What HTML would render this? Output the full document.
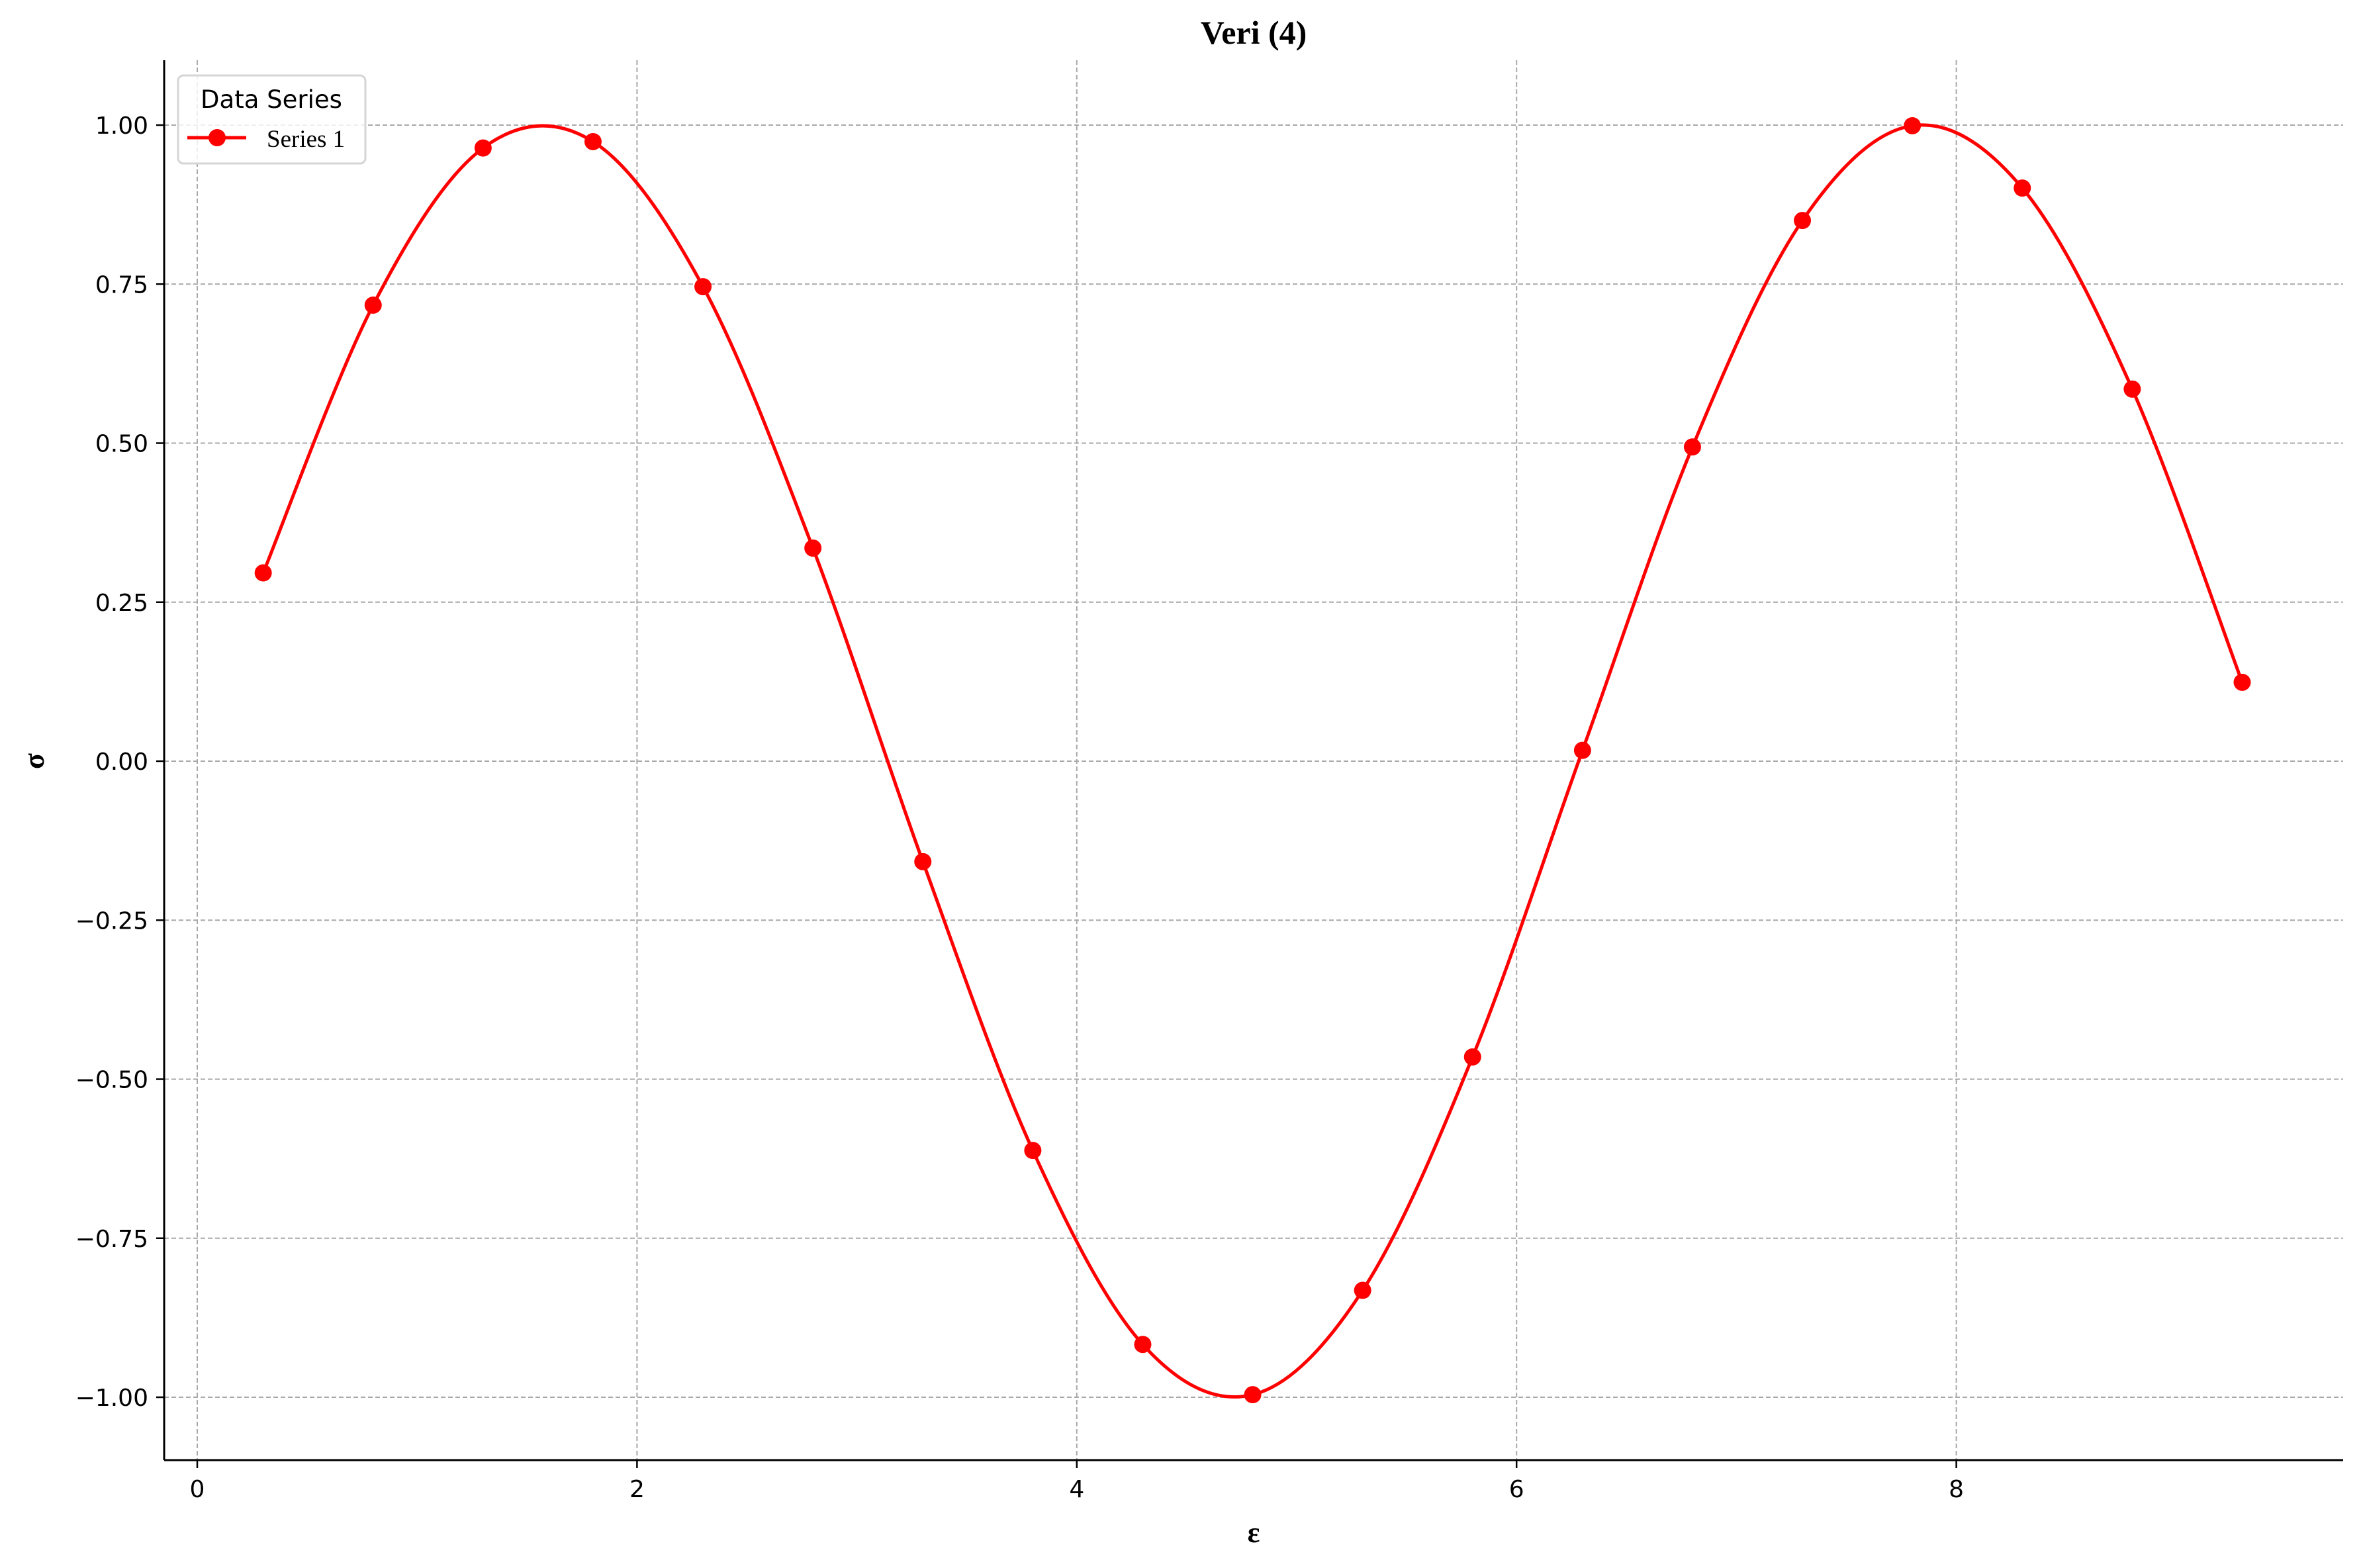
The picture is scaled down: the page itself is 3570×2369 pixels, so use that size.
<!DOCTYPE html>
<html><head><meta charset="utf-8"><style>
html,body{margin:0;padding:0;background:#fff;}
svg{display:block;}
</style></head><body>
<svg id="chart" width="3570" height="2369" xmlns="http://www.w3.org/2000/svg">
<g id="grid"></g>
<g id="axes"></g>
<g id="series"></g>
<text x="1894" y="66" text-anchor="middle" font-family="Liberation Serif, serif" font-weight="bold" font-size="50">Veri (4)</text>
<text x="1894" y="2330" text-anchor="middle" font-family="Liberation Serif, serif" font-weight="bold" font-size="44">ε</text>
<text x="0" y="0" transform="translate(66,1150) rotate(-90)" text-anchor="middle" font-family="Liberation Serif, serif" font-weight="bold" font-size="44">σ</text>
<g>
<rect x="269" y="114" width="283" height="133" rx="8" fill="#fff" fill-opacity="0.8" stroke="#d5d5d5" stroke-width="3"/>
<text x="410" y="163" text-anchor="middle" font-family="DejaVu Sans, sans-serif" font-size="37">Data Series</text>
<line x1="283" y1="208" x2="372" y2="208" stroke="#ff0000" stroke-width="5"/>
<circle cx="328" cy="208" r="13" fill="#ff0000"/>
<text x="403" y="222" font-family="Liberation Serif, serif" font-size="37">Series 1</text>
</g>
</svg>
<script>
const xValues = [0.3,0.8,1.3,1.8,2.3,2.8,3.3,3.8,4.3,4.8,5.3,5.8,6.3,6.8,7.3,7.8,8.3,8.8,9.3];
const yValues = [0.296,0.717,0.964,0.974,0.746,0.335,-0.158,-0.612,-0.917,-0.996,-0.832,-0.465,0.017,0.494,0.850,0.999,0.901,0.585,0.124];
const xTicks = [0,2,4,6,8];
const yTicks = [-1.0,-0.75,-0.5,-0.25,0.0,0.25,0.5,0.75,1.0];
const yTickLabels = ["−1.00","−0.75","−0.50","−0.25","0.00","0.25","0.50","0.75","1.00"];

const L=248,R=3540,T=91,B=2206;
function sx(v){return 298+v*332.2;}
function sy(v){return 1150-v*961;}
const NS="http://www.w3.org/2000/svg";
function mk(tag,attrs,parent){const e=document.createElementNS(NS,tag);for(const k in attrs)e.setAttribute(k,attrs[k]);parent.appendChild(e);return e;}
const grid=document.getElementById('grid'),axes=document.getElementById('axes'),series=document.getElementById('series');

xTicks.forEach(t=>{
  const g=mk('line',{x1:sx(t),x2:sx(t),y1:T,y2:B,stroke:'#a8a8a8','stroke-width':2,'stroke-dasharray':'7,4'},grid);
  
  
  const tk=mk('line',{x1:sx(t),x2:sx(t),y1:B,y2:B+12,stroke:'#000','stroke-width':2.5},axes);
  
  
  const lb=mk('text',{x:sx(t),y:B+56,'text-anchor':'middle','font-family':'DejaVu Sans, sans-serif','font-size':36},axes);
  lb.textContent=t;
  
  
});
yTicks.forEach((t,i)=>{
  const g=mk('line',{x1:L,x2:R,y1:sy(t),y2:sy(t),stroke:'#a8a8a8','stroke-width':2,'stroke-dasharray':'7,4'},grid);
  
  
  const tk=mk('line',{x1:L-12,x2:L,y1:sy(t),y2:sy(t),stroke:'#000','stroke-width':2.5},axes);
  
  
  const lb=mk('text',{x:L-24,y:sy(t)+13,'text-anchor':'end','font-family':'DejaVu Sans, sans-serif','font-size':36},axes);
  lb.textContent=yTickLabels[i];
  
  
});
const ax1=mk('line',{x1:L,x2:L,y1:T,y2:B,stroke:'#000','stroke-width':3},axes);


const ax2=mk('line',{x1:L,x2:R,y1:B,y2:B,stroke:'#000','stroke-width':3},axes);



const P=xValues.map((x,i)=>[sx(x),sy(yValues[i])]);
let d='M'+P[0][0]+','+P[0][1];
for(let i=0;i<P.length-1;i++){
  const p0=P[Math.max(0,i-1)],p1=P[i],p2=P[i+1],p3=P[Math.min(P.length-1,i+2)];
  const c1=[p1[0]+(p2[0]-p0[0])/6,p1[1]+(p2[1]-p0[1])/6];
  const c2=[p2[0]-(p3[0]-p1[0])/6,p2[1]-(p3[1]-p1[1])/6];
  d+=' C'+c1[0]+','+c1[1]+' '+c2[0]+','+c2[1]+' '+p2[0]+','+p2[1];
}
const path=mk('path',{d:d,fill:'none',stroke:'#ff0000','stroke-width':5},series);


P.forEach(p=>{
  const c=mk('circle',{cx:p[0],cy:p[1],r:13,fill:'#ff0000'},series);
  
  
});
</script>
</body></html>
